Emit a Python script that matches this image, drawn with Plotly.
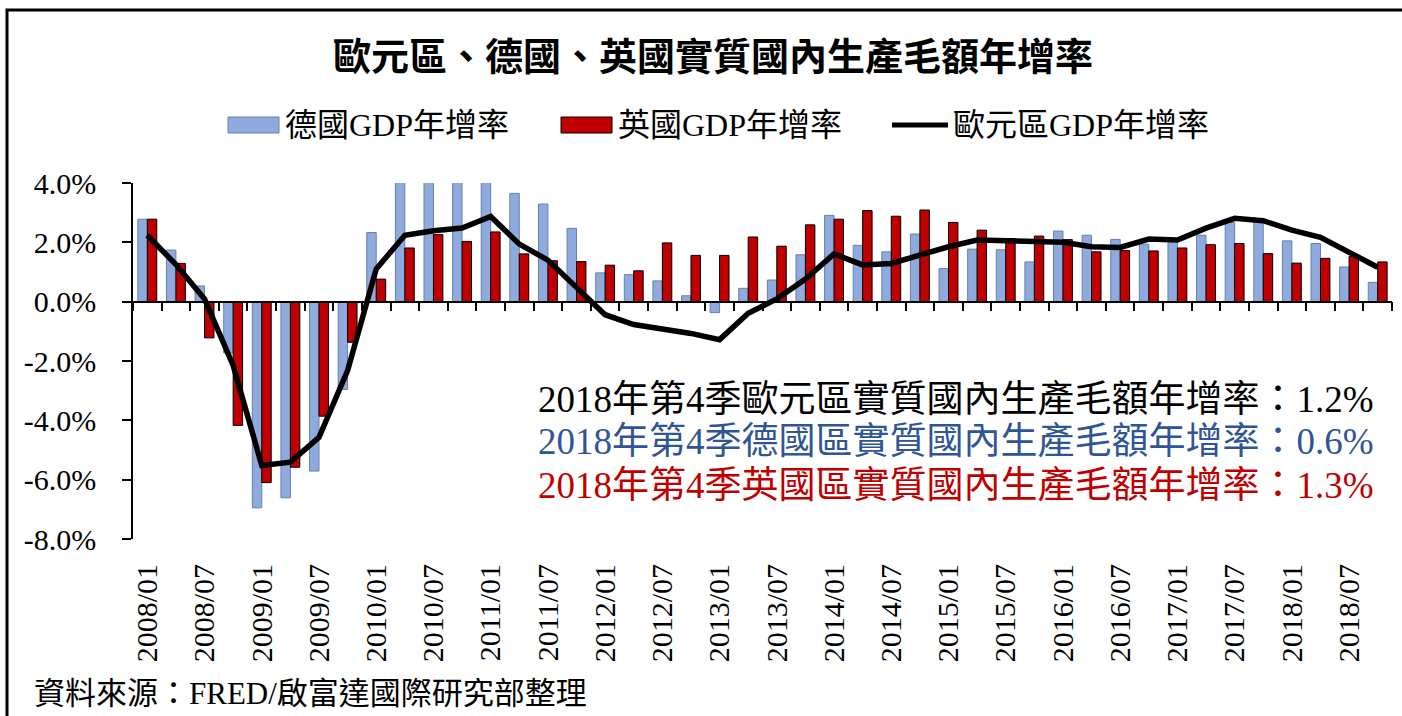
import plotly.graph_objects as go

# ---------------- data ----------------
quarters = [f"{y}/{m:02d}" for y in range(2008, 2019) for m in (1, 4, 7, 10)]
tick_labels = ["2008/01", "2008/07", "2009/01", "2009/07", "2010/01", "2010/07",
               "2011/01", "2011/07", "2012/01", "2012/07", "2013/01", "2013/07",
               "2014/01", "2014/07", "2015/01", "2015/07", "2016/01", "2016/07",
               "2017/01", "2017/07", "2018/01", "2018/07"]

germany = [2.78, 1.74, 0.53, -1.73, -6.95, -6.61, -5.71, -2.96,
           2.33, 4.3, 4.5, 4.6, 5.0, 3.65, 3.29, 2.47,
           0.97, 0.91, 0.70, 0.20, -0.37, 0.45, 0.73, 1.58,
           2.91, 1.90, 1.68, 2.28, 1.12, 1.77, 1.75, 1.34,
           2.38, 2.24, 2.10, 1.94, 2.05, 2.24, 2.67, 2.80,
           2.05, 1.96, 1.17, 0.65]
uk = [2.78, 1.29, -1.22, -4.17, -6.10, -5.58, -3.86, -1.37,
      0.76, 1.81, 2.26, 2.03, 2.35, 1.61, 1.38, 1.35,
      1.23, 1.04, 1.98, 1.56, 1.56, 2.18, 1.87, 2.59,
      2.78, 3.07, 2.88, 3.09, 2.67, 2.41, 2.13, 2.21,
      2.09, 1.68, 1.72, 1.71, 1.81, 1.92, 1.96, 1.62,
      1.30, 1.46, 1.52, 1.34]
eurozone = [2.24, 1.25, 0.09, -2.15, -5.52, -5.41, -4.57, -2.32,
            1.10, 2.24, 2.39, 2.48, 2.87, 1.94, 1.40, 0.45,
            -0.44, -0.77, -0.92, -1.07, -1.28, -0.39, 0.09, 0.76,
            1.61, 1.24, 1.29, 1.57, 1.85, 2.08, 2.05, 2.03,
            2.00, 1.85, 1.83, 2.11, 2.08, 2.48, 2.81, 2.73,
            2.41, 2.17, 1.66, 1.16]

y_tick_vals = [4, 2, 0, -2, -4, -6, -8]
y_tick_text = ["4.0%", "2.0%", "0.0%", "-2.0%", "-4.0%", "-6.0%", "-8.0%"]

name_de = "德國GDP年增率"
name_uk = "英國GDP年增率"
name_ez = "歐元區GDP年增率"
title_text = "歐元區、德國、英國實質國內生產毛額年增率"
note_lines = ["2018年第4季歐元區實質國內生產毛額年增率：1.2%",
              "2018年第4季德國區實質國內生產毛額年增率：0.6%",
              "2018年第4季英國區實質國內生產毛額年增率：1.3%"]
source_text = "資料來源：FRED/啟富達國際研究部整理"

# ---------------- styling ----------------
FONT = "Liberation Serif, 'Noto Sans CJK TC', serif"
BLUE = "#8FAADC"
RED = "#C00000"
W, H = 1402, 716
L, R, T, B = 133, 10, 183, 177


def xp(px):
    return (px - L) / (W - L - R)


def yp(py):
    return (H - B - py) / (H - T - B)


fig = go.Figure()
fig.add_trace(go.Bar(x=quarters, y=germany, name=name_de,
                     marker=dict(color=BLUE, line=dict(color="#6580B0", width=1))))
fig.add_trace(go.Bar(x=quarters, y=uk, name=name_uk,
                     marker=dict(color=RED, line=dict(color="#000000", width=1))))
fig.add_trace(go.Scatter(x=quarters, y=eurozone, name=name_ez, mode="lines",
                         xaxis="x2", yaxis="y",
                         line=dict(color="black", width=5.5)))

shapes = [
    # outer frame
    dict(type="rect", xref="paper", yref="paper", x0=xp(7), x1=xp(1430),
         y0=yp(760), y1=yp(10), line=dict(color="black", width=3),
         fillcolor="rgba(0,0,0,0)", layer="below"),
    # legend swatches
    dict(type="rect", xref="paper", yref="paper", x0=xp(228), x1=xp(279),
         y0=yp(133), y1=yp(117), fillcolor=BLUE, line=dict(color="#6580B0", width=1)),
    dict(type="rect", xref="paper", yref="paper", x0=xp(561), x1=xp(612),
         y0=yp(133), y1=yp(117), fillcolor=RED, line=dict(color="black", width=1)),
    dict(type="line", xref="paper", yref="paper", x0=xp(892), x1=xp(948),
         y0=yp(125), y1=yp(125), line=dict(color="black", width=5)),
]

annotations = [
    dict(text=name_de, x=xp(283), y=yp(125)),
    dict(text=name_uk, x=xp(616), y=yp(125)),
    dict(text=name_ez, x=xp(951), y=yp(125)),
]
for a in annotations:
    a.update(xref="paper", yref="paper", xanchor="left", yanchor="middle",
             showarrow=False, font=dict(family=FONT, size=32, color="black"))

note_colors = ["#000000", "#2F5597", "#C00000"]
note_y = [399, 441, 485]
for txt, c, py in zip(note_lines, note_colors, note_y):
    annotations.append(dict(text=txt, xref="paper", yref="paper", x=xp(956), y=yp(py),
                            xanchor="center", yanchor="middle", showarrow=False,
                            font=dict(family=FONT, size=37, color=c)))

annotations.append(dict(text=source_text, xref="paper", yref="paper", x=xp(32), y=yp(693),
                        xanchor="left", yanchor="middle", showarrow=False,
                        font=dict(family=FONT, size=31, color="black")))

fig.update_layout(
    width=W, height=H,
    margin=dict(l=L, r=R, t=T, b=B),
    paper_bgcolor="white", plot_bgcolor="white",
    showlegend=False,
    barmode="group", bargap=0.34, bargroupgap=0,
    font=dict(family=FONT, color="black"),
    title=dict(text=title_text, x=713 / W, y=1 - 57 / H, xref="container", yref="container",
               xanchor="center", yanchor="middle",
               font=dict(family=FONT, size=38, color="black", weight="bold")),
    xaxis=dict(type="category", categoryorder="array", categoryarray=quarters,
               range=[-0.5, len(quarters) - 0.5],
               tickmode="array", tickvals=quarters[::2], ticktext=tick_labels,
               tickangle=-90, ticks="", showline=False, showgrid=False, zeroline=False,
               tickfont=dict(family=FONT, size=30, color="black"),
               ticklabelstandoff=18),
    xaxis2=dict(type="category", categoryorder="array", categoryarray=quarters,
                range=[-0.5, len(quarters) - 0.5],
                overlaying="x", anchor="free", position=2 / 3,
                tickson="boundaries", ticks="outside", ticklen=9, tickwidth=1.5,
                tickcolor="black", showticklabels=False, showline=True,
                linecolor="black", linewidth=1.5, showgrid=False, zeroline=False),
    yaxis=dict(range=[-8, 4], tickmode="array", tickvals=y_tick_vals, ticktext=y_tick_text,
               ticks="outside", ticklen=9, tickwidth=1.5, tickcolor="black",
               showline=True, linecolor="black", linewidth=1.5,
               showgrid=False, zeroline=False,
               tickfont=dict(family=FONT, size=30, color="black"),
               ticklabelstandoff=20),
    shapes=shapes,
    annotations=annotations,
)

fig.write_html("out.html")
